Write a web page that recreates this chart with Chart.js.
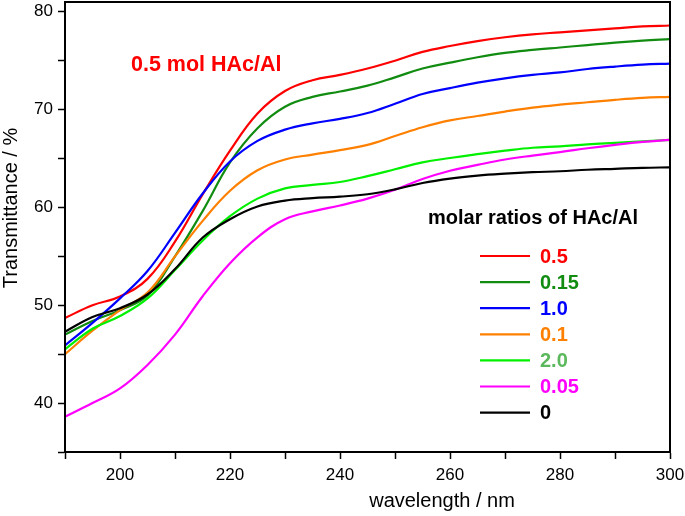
<!DOCTYPE html>
<html>
<head>
<meta charset="utf-8">
<script src="https://cdn.jsdelivr.net/npm/chart.js@4/dist/chart.umd.min.js"></script>
<style>
  html, body { margin: 0; padding: 0; background: #fff; }
  #wrap { width: 685px; height: 516px; }
</style>
</head>
<body>
<div id="wrap"><canvas id="uv-chart"></canvas></div>
<script>
// wavelength (nm)
const wavelengths = [190, 195, 200, 205, 210, 215, 220, 225, 230, 235, 240, 245,
  250, 255, 260, 265, 270, 275, 280, 285, 290, 295, 300];

// transmittance (%) per molar ratio of HAc/Al
const ratioLabels = ['0.5', '0.15', '1.0', '0.1', '2.0', '0.05', '0'];
const t05 = [48.7, 50.0, 50.9, 52.7, 56.5, 61.3, 65.8, 69.6, 71.9, 73.0, 73.55, 74.2,
  75.0, 75.9, 76.5, 77.0, 77.4, 77.7, 77.9, 78.1, 78.3, 78.5, 78.6];
const t015 = [47.0, 48.4, 49.5, 51.0, 55.0, 59.6, 64.6, 68.1, 70.3, 71.3, 71.85, 72.45,
  73.3, 74.2, 74.8, 75.35, 75.8, 76.1, 76.35, 76.6, 76.85, 77.05, 77.2];
const t10 = [45.9, 48.2, 50.7, 53.5, 57.4, 61.4, 64.7, 66.8, 67.95, 68.6, 69.05, 69.65,
  70.6, 71.6, 72.2, 72.75, 73.2, 73.55, 73.8, 74.15, 74.4, 74.6, 74.7];
const t01 = [45.0, 47.4, 49.5, 51.3, 55.0, 58.6, 61.7, 63.8, 64.9, 65.4, 65.85, 66.4,
  67.3, 68.2, 68.9, 69.35, 69.8, 70.2, 70.5, 70.75, 71.0, 71.2, 71.3];
const t20 = [45.5, 47.6, 48.9, 50.7, 53.6, 56.6, 59.1, 60.9, 61.95, 62.3, 62.6, 63.2,
  63.9, 64.6, 65.05, 65.45, 65.8, 66.1, 66.25, 66.45, 66.6, 66.75, 66.9];
const t005 = [38.6, 40.0, 41.5, 43.9, 47.0, 50.9, 54.3, 56.95, 58.8, 59.6, 60.2, 60.9,
  61.8, 62.9, 63.75, 64.35, 64.9, 65.3, 65.65, 66.05, 66.4, 66.7, 66.9];
const t0 = [47.3, 48.8, 49.7, 51.1, 53.7, 56.9, 58.8, 60.1, 60.7, 60.95, 61.1, 61.35,
  61.85, 62.5, 62.95, 63.25, 63.45, 63.6, 63.7, 63.85, 63.95, 64.05, 64.1];

const seriesValues = [t05, t015, t10, t01, t20, t005, t0];
const lineColors = ['#ff0000', '#118c11', '#0000ff', '#ff8000', '#00f000', '#ff00ff', '#000000'];
const textColors = ['#ff0000', '#118c11', '#0000ff', '#ff8000', '#5cb85c', '#ff00ff', '#000000'];

let datasets = [];
for (let i = 0; i < seriesValues.length; i += 1) {
  datasets.push({
    label: ratioLabels[i],
    data: wavelengths.map((w, j) => ({ x: w, y: seriesValues[i][j] })),
    borderColor: lineColors[i],
    borderWidth: 2.2,
    pointRadius: 0,
    tension: 0.4,
    fill: false
  });
}
// red on top, black at the bottom
datasets.reverse();

const FONT = '"Liberation Sans", Arial, sans-serif';

const framePlugin = {
  id: 'frame',
  afterDraw(chart) {
    const ctx = chart.ctx;
    const a = chart.chartArea;
    ctx.save();
    ctx.strokeStyle = '#000';
    ctx.lineWidth = 2;
    ctx.strokeRect(a.left, a.top, a.right - a.left, a.bottom - a.top);

    // axis titles
    ctx.fillStyle = '#000';
    ctx.font = '20px ' + FONT;
    ctx.textAlign = 'center';
    ctx.textBaseline = 'middle';
    ctx.fillText('wavelength / nm', 442, 501);
    ctx.save();
    ctx.translate(11, 208);
    ctx.rotate(-Math.PI / 2);
    ctx.fillText('Transmittance / %', 0, 0);
    ctx.restore();

    // annotation
    ctx.fillStyle = '#ff0000';
    ctx.font = 'bold 21.5px ' + FONT;
    ctx.textAlign = 'left';
    ctx.fillText('0.5 mol HAc/Al', 131, 65);

    // legend
    ctx.fillStyle = '#000';
    ctx.font = 'bold 20px ' + FONT;
    ctx.textAlign = 'center';
    ctx.fillText('molar ratios of HAc/Al', 533, 218);
    ctx.textAlign = 'left';
    for (let i = 0; i < ratioLabels.length; i += 1) {
      const y = 256 + i * 26.1;
      ctx.strokeStyle = lineColors[i];
      ctx.lineWidth = 2.2;
      ctx.beginPath();
      ctx.moveTo(480, y);
      ctx.lineTo(530, y);
      ctx.stroke();
      ctx.fillStyle = textColors[i];
      ctx.fillText(ratioLabels[i], 540, y + 1);
    }
    ctx.restore();
  }
};

new Chart(document.getElementById('uv-chart'), {
  type: 'line',
  data: { datasets: datasets },
  options: {
    responsive: true,
    maintainAspectRatio: false,
    animation: false,
    layout: { padding: { top: 2, right: 15, left: 0, bottom: 0 } },
    plugins: {
      legend: { display: false },
      tooltip: { enabled: false }
    },
    scales: {
      x: {
        type: 'linear',
        min: 190,
        max: 300,
        afterFit: function (scale) {
          scale.height = 64;
          scale.paddingLeft = 0;
          scale.paddingRight = 0;
        },
        ticks: {
          stepSize: 10,
          includeBounds: false,
          autoSkip: false,
          maxRotation: 0,
          padding: 6,
          color: '#000',
          font: { family: FONT, size: 17 },
          callback: function (v) { return v % 20 === 0 ? String(v) : ''; }
        },
        grid: { drawOnChartArea: false, tickLength: 7, tickColor: '#000', tickWidth: 1.5 },
        border: { color: '#000', width: 2 }
      },
      y: {
        min: 35,
        max: 81,
        afterFit: function (scale) {
          scale.width = 65;
          scale.paddingTop = 0;
          scale.paddingBottom = 0;
        },
        ticks: {
          stepSize: 5,
          includeBounds: false,
          padding: 5,
          color: '#000',
          font: { family: FONT, size: 17 },
          callback: function (v) { return v % 10 === 0 ? String(v) : ''; }
        },
        grid: { drawOnChartArea: false, tickLength: 7, tickColor: '#000', tickWidth: 1.5 },
        border: { color: '#000', width: 2 }
      }
    }
  },
  plugins: [framePlugin]
});
</script>
</body>
</html>
